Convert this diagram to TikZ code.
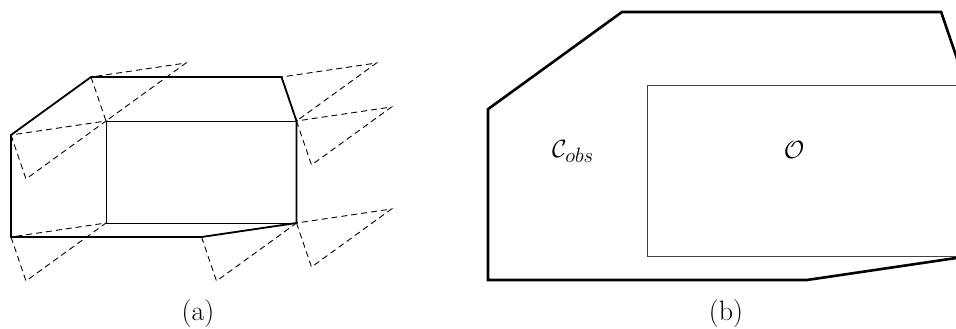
\documentclass[tikz,border=0pt]{standalone}
\usetikzlibrary{calc}
\begin{document}
\begin{tikzpicture}[x=1pt,y=-1pt,
  obst/.style={line width=1.8pt,line join=miter},
  obsb/.style={line width=2.6pt,line join=miter},
  rectl/.style={line width=0.8pt},
  rectr/.style={line width=1.0pt,draw=black!75},
  robot/.style={dashed,line width=0.9pt,dash pattern=on 6pt off 4pt},
  lbl/.style={font=\fontsize{28}{32}\selectfont,inner sep=0pt,anchor=base}]
\useasboundingbox (0,0) rectangle (956,329);
\clip (0,0) rectangle (956,329);
% left figure (a)
\coordinate (A) at (11,135);
\coordinate (B) at (91,77);
\coordinate (C) at (281.5,77);
\coordinate (D) at (296.5,121);
\coordinate (E) at (296.5,223);
\coordinate (F) at (201.5,237);
\coordinate (G) at (11,237);
\coordinate (R1) at (106,121);
\draw[rectl] (R1) rectangle (E);
\draw[obst] (A) -- (B) -- (C) -- (D) -- (E) -- (F) -- (G) -- cycle;
\foreach \p in {A,B,C,D,G,F,E}
  \draw[robot] (\p) -- ++(15,44) -- ++(80,-58) -- cycle;
\node[lbl] (la) at (198,320) {(a)};
% right figure (b)
\begin{scope}[shift={(469.6,-117)},scale=1.675]
\coordinate (bA) at (11,135);
\coordinate (bB) at (91,77);
\coordinate (bC) at (281.5,77);
\coordinate (bD) at (296.5,121);
\coordinate (bE) at (296.5,223);
\coordinate (bF) at (201.5,237);
\coordinate (bG) at (11,237);
\coordinate (bR1) at (106,121);
\end{scope}
\draw[rectr] (bR1) rectangle (bE);
\draw[obsb] (bA) -- (bB) -- (bC) -- (bD) -- (bE) -- (bF) -- (bG) -- cycle;
\node[lbl] (cobs) at (573,157) {$\mathcal{C}_{obs}$};
\node[lbl] (obj) at (794,158) {$\mathcal{O}$};
\node[lbl] (lb) at (726,320) {(b)};
\end{tikzpicture}
\end{document}
